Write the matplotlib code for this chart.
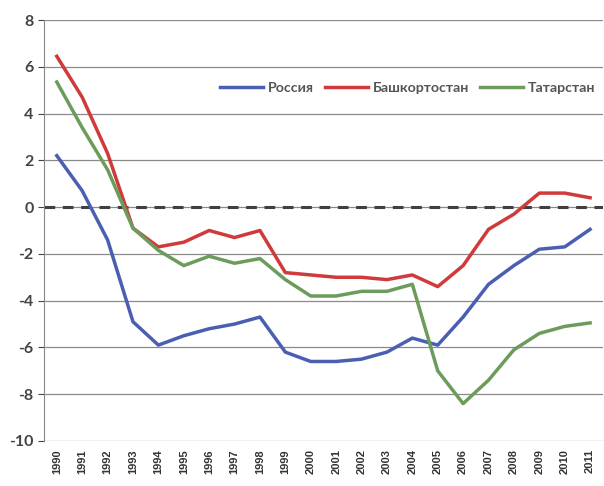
import matplotlib
matplotlib.use("Agg")
import matplotlib.pyplot as plt

years = [str(y) for y in range(1990, 2012)]
russia = [2.2, 0.7, -1.4, -4.9, -5.9, -5.5, -5.2, -5.0, -4.7, -6.2, -6.6,
          -6.6, -6.5, -6.2, -5.6, -5.9, -4.7, -3.3, -2.5, -1.8, -1.7, -0.95]
bashkortostan = [6.45, 4.7, 2.3, -0.9, -1.7, -1.5, -1.0, -1.3, -1.0, -2.8, -2.9,
                 -3.0, -3.0, -3.1, -2.9, -3.4, -2.5, -0.95, -0.3, 0.6, 0.6, 0.4]
tatarstan = [5.35, 3.4, 1.6, -0.9, -1.85, -2.5, -2.1, -2.4, -2.2, -3.1, -3.8,
             -3.8, -3.6, -3.6, -3.3, -7.0, -8.4, -7.4, -6.1, -5.4, -5.1, -4.95]
labels = ["Россия", "Башкортостан", "Татарстан"]
colors = ["#4b5fb2", "#d03a3a", "#6b9c5c"]

plt.rcParams["font.family"] = ["Lato", "DejaVu Sans"]
plt.rcParams["axes.unicode_minus"] = False

fig = plt.figure(figsize=(6.04, 4.86), dpi=100)
ax = fig.add_axes([0.073, 0.0926, 0.925, 0.8662])

x = list(range(len(years)))
for series, label, color in zip([russia, bashkortostan, tatarstan], labels, colors):
    ax.plot(x, series, color=color, lw=2.5, label=label, solid_joinstyle="round")

ax.axhline(0, color="#404040", lw=2.2, ls=(0, (3.5, 2.5)), zorder=1)

ax.set_ylim(-10, 8)
ax.set_xlim(-0.5, len(years) - 0.5)
ax.set_yticks(range(-10, 9, 2))
ax.set_xticks(x)
ax.set_xticklabels(years, rotation=90, fontsize=8, fontweight="bold", color="#333333",
                   family=["Liberation Sans", "DejaVu Sans"])
ax.tick_params(axis="y", labelsize=11.5, colors="#444444", length=4, width=0.8)
for lbl in ax.get_yticklabels():
    lbl.set_fontweight("bold")
ax.tick_params(axis="x", length=0, pad=6)
ax.yaxis.grid(True, color="#8a8a8a", lw=0.9)
ax.set_axisbelow(True)
for side in ["top", "right", "bottom"]:
    ax.spines[side].set_visible(False)
ax.spines["left"].set_color("#888888")

ax.legend(loc="center", bbox_to_anchor=(0.675, 0.818), bbox_transform=fig.transFigure,
          ncol=3, frameon=False, handlelength=3.0, columnspacing=0.8, handletextpad=0.35,
          borderpad=0.2, prop={"size": 10.2, "weight": "bold"}, labelcolor="#555555")

fig.savefig("out.png", dpi=100)
